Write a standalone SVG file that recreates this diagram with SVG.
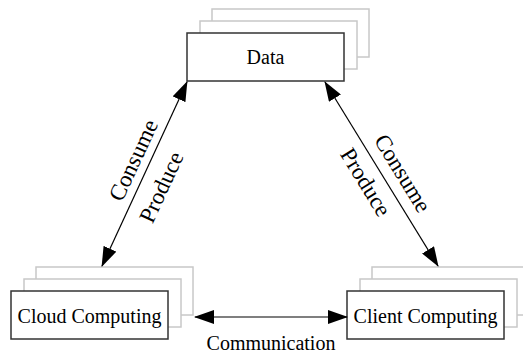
<svg xmlns="http://www.w3.org/2000/svg" width="523" height="353" viewBox="0 0 523 353">
<style>
.bg{fill:#fff}
.sh{fill:#fff;stroke:#c8c8c8;stroke-width:1.5}
.box{fill:#fff;stroke:#333;stroke-width:1.5}
.lbl{font-family:"Liberation Serif","Times New Roman",serif;font-size:20px;fill:#000;text-anchor:middle}
.rl{font-family:"Liberation Serif","Times New Roman",serif;font-size:23px;fill:#000;text-anchor:middle}
.ln{stroke:#000;stroke-width:1.2;fill:none;marker-start:url(#ah);marker-end:url(#ah)}
</style>
<defs>
<marker id="ah" markerUnits="userSpaceOnUse" markerWidth="20" markerHeight="14" refX="19" refY="7" orient="auto-start-reverse" viewBox="0 0 20 14">
<path d="M0,0 L20,7 L0,14 z" fill="#000"/>
</marker>
</defs>
<rect class="bg" x="0" y="0" width="523" height="353"/>
<g id="data">
<rect class="sh" x="212" y="9" width="157" height="48"/>
<rect class="sh" x="200" y="21" width="157" height="48"/>
<rect class="box" x="187" y="33" width="157" height="48"/>
<text class="lbl" x="265.5" y="64">Data</text>
</g>
<g id="cloud">
<rect class="sh" x="36" y="267" width="157" height="48"/>
<rect class="sh" x="24" y="279" width="157" height="48"/>
<rect class="box" x="11" y="291" width="157" height="48"/>
<text class="lbl" x="89.5" y="323">Cloud Computing</text>
</g>
<g id="client">
<rect class="sh" x="372" y="267" width="157" height="48"/>
<rect class="sh" x="360" y="279" width="157" height="48"/>
<rect class="box" x="347" y="291" width="157" height="48"/>
<text class="lbl" x="425.5" y="323">Client Computing</text>
</g>
<g id="connectors">
<line class="ln" x1="187" y1="82" x2="102" y2="266"/>
<line class="ln" x1="325" y1="82" x2="438" y2="266"/>
<line class="ln" x1="195" y1="317" x2="347" y2="317"/>
<text class="rl" transform="translate(133,160) rotate(-65.2)" y="8">Consume</text>
<text class="rl" transform="translate(161,187) rotate(-65.2)" y="8">Produce</text>
<text class="rl" transform="translate(403,173) rotate(58.4)" y="8">Consume</text>
<text class="rl" transform="translate(366,182) rotate(58.4)" y="8">Produce</text>
<text class="lbl" x="271" y="350">Communication</text>
</g>
</svg>
